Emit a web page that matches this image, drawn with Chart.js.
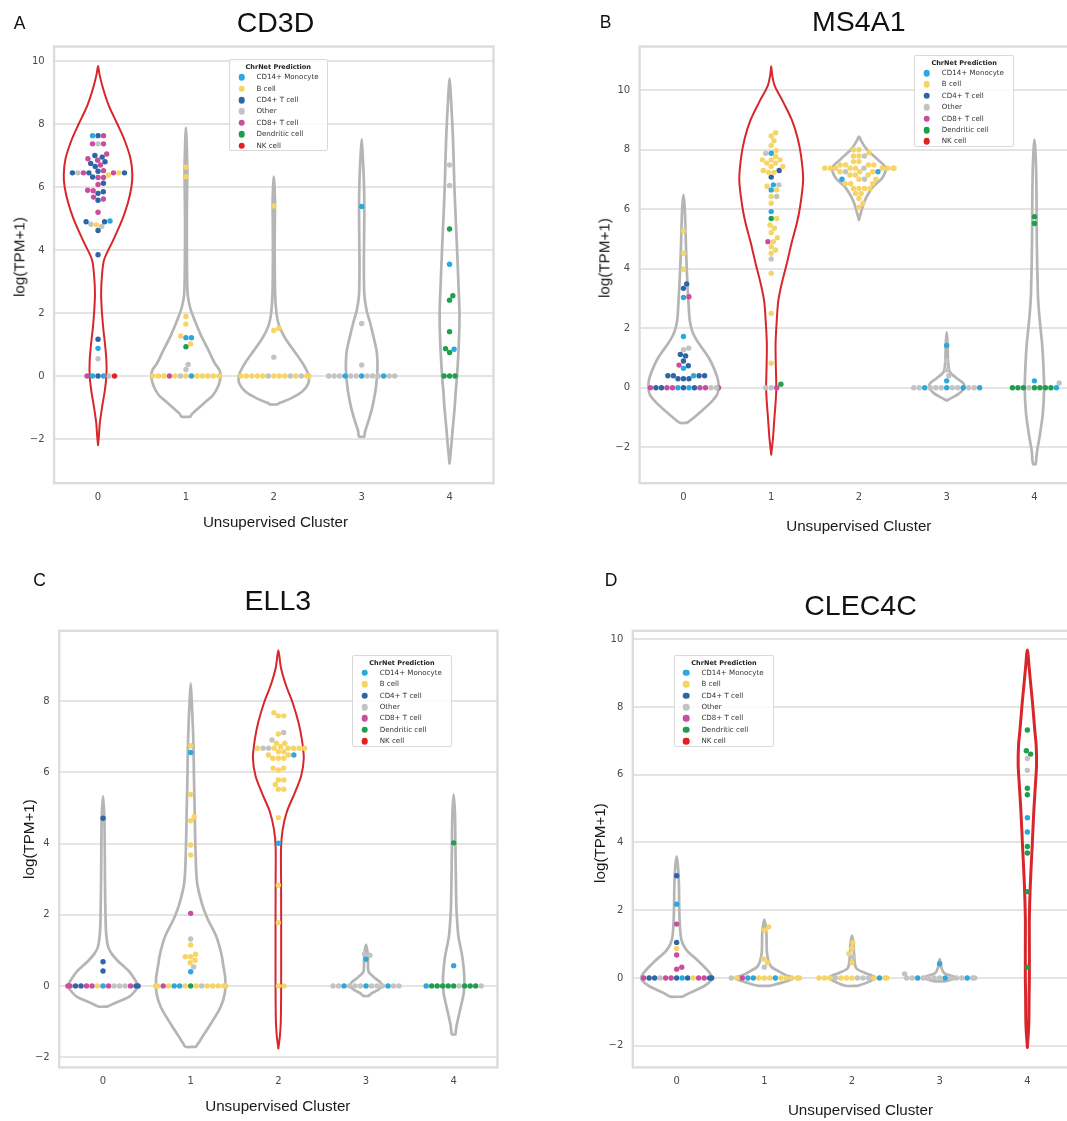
<!DOCTYPE html>
<html>
<head>
<meta charset="utf-8">
<title>ChrNet prediction vs unsupervised clusters</title>
<script src="https://cdn.jsdelivr.net/npm/chart.js@4.4.1/dist/chart.umd.min.js"></script>
<style>
  html, body { margin: 0; padding: 0; background: #fff; }
  body { width: 1067px; height: 1121px; overflow: hidden; position: relative; }
  .plot { position: absolute; }
  .txt { position: absolute; white-space: nowrap; line-height: 1; transform: translate(-50%, -50%);
         color: #111; font-family: 'Liberation Sans', Arial, sans-serif; }
  .letter { font-size: 17.5px; }
  .title { font-size: 28.5px; }
  .axis-title { font-size: 15.2px; color: #1a1a1a; }
  .ytitle { transform: translate(-50%, -50%) rotate(-90deg); }
  .legend { position: absolute; box-sizing: border-box; border: 1px solid #d9d9d9; border-radius: 2px;
            background: rgba(255,255,255,0.85); font-family: 'DejaVu Sans', sans-serif; color: #333; }
  .legend .lt { position: absolute; left: 0; right: 0; text-align: center; font-weight: bold; font-size: 6.5px;
                line-height: 1; transform: translateY(-50%); color: #222; }
  .legend .dot { position: absolute; width: 6.6px; height: 6.6px; border-radius: 50%; transform: translate(-50%, -50%); }
  .legend .lab { position: absolute; font-size: 7.1px; line-height: 1; transform: translateY(-50%); white-space: nowrap; }
</style>
</head>
<body>
<script>
// ---- cell types (hue of the swarm points) ----
const CELL_TYPES  = ['CD14+ Monocyte', 'B cell', 'CD4+ T cell', 'Other', 'CD8+ T cell', 'Dendritic cell', 'NK cell'];
const CELL_CODES  = ['m', 'b', '4', 'o', '8', 'd', 'n'];
const CELL_COLORS = ['#2ba8de', '#f6d466', '#2e65a6', '#c3c3c3', '#c94f9e', '#1f9e4d', '#e2211e'];

const CLUSTERS = [0, 1, 2, 3, 4];
const Y_TICKS  = [-2, 0, 2, 4, 6, 8, 10];
const GENES    = ['CD3D', 'MS4A1', 'ELL3', 'CLEC4C'];
const LETTERS  = ['A', 'B', 'C', 'D'];
const NK_CLUSTER = [0, 1, 2, 4];          // cluster outlined in red in each panel
const LEGEND_TITLE = 'ChrNet Prediction';
const X_TITLE = 'Unsupervised Cluster';
const Y_TITLE = 'log(TPM+1)';

// ---- cells: per cluster, rows of [log(TPM+1), cell-type codes from left to right] ----
const CD3D_CELLS = [
  [[0, '8m4mon'], [0.55, 'o'], [0.88, 'm'], [1.17, '4'], [3.85, '4'],
   [4.62, '4'], [4.75, 'o'], [4.8, 'b'], [4.82, 'o'], [4.9, '44'], [4.92, 'm'], [5.2, '8'],
   [5.58, '4'], [5.62, '8'], [5.68, '8'], [5.8, '4'], [5.85, '4'], [5.88, '8'], [5.9, '8'],
   [6.08, '8'], [6.12, '4'], [6.3, '88'], [6.32, '4'], [6.38, 'b'], [6.45, '4b848o4'], [6.5, '4'], [6.52, '8'],
   [6.65, '4'], [6.7, '8'], [6.75, '4'], [6.8, '4'], [6.85, '8'], [6.9, '8'], [6.95, '4'], [7.0, '4'], [7.05, '8'],
   [7.37, '8o8'], [7.63, 'm48']],
  [[0, 'bbb8bobmbbbbb'], [0.21, 'o'], [0.37, 'o'], [0.93, 'd'], [1.02, 'b'], [1.22, 'mm'], [1.27, 'b'],
   [1.65, 'b'], [1.89, 'b'], [6.33, 'b'], [6.63, 'b']],
  [[0, 'bbbbbobbbobobb'], [0.6, 'o'], [1.45, 'b'], [1.52, 'b'], [5.4, 'b']],
  [[0, 'ooomoomooomoo'], [0.35, 'o'], [1.67, 'o'], [5.38, 'm']],
  [[0, 'ddd'], [0.75, 'd'], [0.85, 'm'], [0.87, 'd'], [1.41, 'd'], [2.41, 'd'], [2.55, 'd'], [3.55, 'm'],
   [4.67, 'd'], [6.05, 'o'], [6.7, 'o']]
];
const MS4A1_CELLS = [
  [[0, '84488m4m488oo8'], [0.3, '444'], [0.4, '44m44'], [0.65, 'm'], [0.74, '4'], [0.76, '8'], [0.9, '4'],
   [1.07, '4'], [1.12, '4'], [1.28, 'o'], [1.33, 'o'], [1.72, 'm'], [3.03, 'm'], [3.06, '8'], [3.34, '4'],
   [3.49, '4'], [3.98, 'b'], [4.52, 'b'], [5.27, 'b']],
  [[0, 'oo8'], [0.12, 'd'], [0.82, 'b'], [2.5, 'b'], [3.85, 'b'], [4.33, 'o'], [4.52, 'b'], [4.63, 'b'],
   [4.74, 'b'], [4.91, 'b8'], [5.04, 'b'], [5.21, 'b'], [5.36, 'b'], [5.47, 'b'], [5.69, 'db'], [5.92, 'm'],
   [6.2, 'b'], [6.43, 'bo'], [6.65, 'mb'], [6.77, 'b'], [6.82, 'mo'], [7.08, '4'], [7.24, 'bb'], [7.3, '4b'],
   [7.44, 'bb'], [7.55, 'bb'], [7.66, 'bbb'], [7.77, 'b'], [7.88, 'mo'], [7.97, 'b'], [8.14, 'b'], [8.3, 'b'],
   [8.46, 'b'], [8.57, 'b']],
  [[6.06, 'b'], [6.19, 'b'], [6.36, 'b'], [6.53, 'bb'], [6.7, 'bbbb'], [6.86, 'bbb'], [7.01, 'bbom'],
   [7.15, 'bbb'], [7.26, 'bobbm'], [7.38, 'bbbbbobbbb'], [7.49, 'bbbb'], [7.6, 'bb'], [7.79, 'bbo'],
   [7.9, 'b'], [8.0, 'bb']],
  [[0, 'oomooomoomoom'], [0.23, 'm'], [0.4, 'o'], [0.6, 'o'], [0.9, 'o'], [1.42, 'm']],
  [[0, 'dddoddddm'], [0.16, 'o'], [0.23, 'm'], [5.52, 'd'], [5.75, 'd']]
];
const ELL3_CELLS = [
  [[0, '884488bm8ooo844'], [0.42, '4'], [0.68, '4'], [4.71, '4']],
  [[0, 'bb8bmmbdbobbbbb'], [0.4, 'm'], [0.53, 'o'], [0.65, 'b'], [0.72, 'b'], [0.82, 'bb'], [0.89, 'b'],
   [1.15, 'b'], [1.32, 'o'], [2.04, '8'], [3.68, 'b'], [3.96, 'b'], [4.64, 'b'], [4.76, 'b'], [5.38, 'b'],
   [6.56, 'm'], [6.75, 'b']],
  [[0, 'bb'], [1.78, 'b'], [2.83, 'b'], [4.01, 'm'], [4.73, 'b'], [5.53, 'bb'], [5.66, 'b'], [5.79, 'bb'],
   [6.07, 'b'], [6.12, 'bb'], [6.4, 'bbb'], [6.49, 'mbb'], [6.58, 'bb'], [6.68, 'boobbbbb'], [6.72, 'b'],
   [6.82, 'bb'], [6.91, 'o'], [7.08, 'b'], [7.12, 'o'], [7.59, 'bb'], [7.68, 'b']],
  [[0, 'oomooomooomoo'], [0.75, 'm'], [0.86, 'o'], [0.9, 'o']],
  [[0, 'mdddddodddo'], [0.57, 'm'], [4.02, 'd']]
];
const CLEC4C_CELLS = [
  [[0, '844o884m4b8844'], [0.26, '8'], [0.32, '8'], [0.68, '8'], [0.87, 'b'], [1.05, '4'], [1.59, '8'],
   [2.18, 'm'], [3.02, '4']],
  [[0, 'ob8mmbbbmbbbbb'], [0.32, 'o'], [0.45, 'b'], [0.56, 'b'], [1.41, 'b'], [1.51, 'b']],
  [[0, 'bbbobbbooobmbb'], [0.45, 'b'], [0.61, 'o'], [0.72, 'b'], [0.88, 'b'], [1.04, 'b']],
  [[0, 'oomoooomooomoo'], [0.12, 'o'], [0.42, 'm']],
  [[0.32, 'd'], [2.55, 'd'], [3.69, 'd'], [3.88, 'd'], [4.31, 'm'], [4.73, 'm'], [5.41, 'd'], [5.6, 'd'],
   [6.13, 'o'], [6.48, 'o'], [6.61, 'd'], [6.71, 'd'], [7.32, 'd']]
];

// ---- violin density outlines: [log(TPM+1), half width in cluster units], bottom to top ----
const CD3D_VIOLINS = [
  [[-2.19, 0], [-1.9, 0.01], [-1.5, 0.02], [-1.0, 0.045], [-0.5, 0.075], [0, 0.095], [0.5, 0.095], [1.0, 0.08],
   [1.5, 0.06], [2.0, 0.045], [2.6, 0.035], [3.2, 0.045], [3.7, 0.07], [4.3, 0.17], [5.0, 0.28], [5.5, 0.34],
   [6.0, 0.38], [6.4, 0.39], [6.9, 0.37], [7.5, 0.3], [8.0, 0.22], [8.6, 0.12], [9.2, 0.05], [9.6, 0.015], [9.84, 0]],
  [[-1.29, 0.05], [-1.2, 0.07], [-1.0, 0.15], [-0.8, 0.23], [-0.6, 0.31], [-0.3, 0.37], [0, 0.395], [0.2, 0.38],
   [0.4, 0.33], [0.8, 0.26], [1.3, 0.17], [1.8, 0.095], [2.2, 0.045], [2.6, 0.02], [3.5, 0.012], [5, 0.01],
   [6, 0.014], [6.5, 0.016], [7, 0.012], [7.6, 0.006], [7.89, 0]],
  [[-0.9, 0.04], [-0.85, 0.07], [-0.7, 0.2], [-0.5, 0.32], [-0.25, 0.39], [0, 0.4], [0.2, 0.37], [0.4, 0.33],
   [0.8, 0.23], [1.2, 0.13], [1.6, 0.06], [2.0, 0.03], [2.6, 0.015], [4, 0.01], [5, 0.012], [5.6, 0.013],
   [6.1, 0.006], [6.33, 0]],
  [[-1.92, 0.03], [-1.75, 0.04], [-1.4, 0.08], [-1.0, 0.12], [-0.5, 0.155], [0, 0.175], [0.4, 0.18], [0.8, 0.17],
   [1.3, 0.13], [1.7, 0.095], [2.1, 0.055], [2.6, 0.03], [3.5, 0.025], [4.5, 0.028], [5.4, 0.03], [6.2, 0.025],
   [7, 0.012], [7.51, 0]],
  [[-2.77, 0], [-2.3, 0.017], [-1.7, 0.035], [-1.0, 0.058], [-0.5, 0.07], [0, 0.085], [1, 0.105], [2, 0.113],
   [3, 0.1], [4, 0.086], [5, 0.07], [6, 0.055], [7, 0.045], [7.8, 0.035], [8.5, 0.022], [9.1, 0.01], [9.44, 0]]
];
const MS4A1_VIOLINS = [
  [[-1.18, 0.04], [-1.05, 0.1], [-0.8, 0.2], [-0.5, 0.31], [-0.25, 0.38], [0, 0.4], [0.3, 0.39], [0.7, 0.34],
   [1.0, 0.29], [1.3, 0.22], [1.6, 0.15], [1.9, 0.1], [2.3, 0.07], [3, 0.055], [4, 0.037], [5, 0.026],
   [6, 0.015], [6.48, 0]],
  [[-2.25, 0], [-1.7, 0.02], [-1.0, 0.037], [-0.5, 0.05], [0, 0.058], [0.8, 0.052], [1.5, 0.05], [2.2, 0.062],
   [2.9, 0.08], [3.5, 0.12], [4.2, 0.18], [4.9, 0.235], [5.5, 0.29], [6.1, 0.33], [7.0, 0.364], [7.8, 0.34],
   [8.4, 0.3], [9.0, 0.235], [9.6, 0.137], [10.15, 0.04], [10.5, 0.012], [10.81, 0]],
  [[5.64, 0], [5.96, 0.03], [6.2, 0.055], [6.41, 0.086], [6.75, 0.16], [7.03, 0.26], [7.25, 0.3], [7.4, 0.305],
   [7.55, 0.26], [7.76, 0.18], [7.95, 0.11], [8.1, 0.067], [8.3, 0.025], [8.44, 0]],
  [[-0.43, 0], [-0.35, 0.05], [-0.2, 0.14], [0, 0.2], [0.15, 0.19], [0.32, 0.114], [0.54, 0.034], [0.93, 0.015],
   [1.3, 0.012], [1.6, 0.008], [1.86, 0]],
  [[-2.57, 0.015], [-2.13, 0.031], [-1.55, 0.064], [-0.86, 0.096], [0, 0.11], [0.88, 0.1], [1.46, 0.088],
   [2.04, 0.068], [2.62, 0.05], [3.19, 0.039], [4.93, 0.027], [6, 0.025], [7.25, 0.02], [8, 0.01], [8.34, 0]]
];
const ELL3_VIOLINS = [
  [[-0.58, 0.05], [-0.5, 0.12], [-0.3, 0.3], [-0.1, 0.38], [0, 0.4], [0.15, 0.37], [0.4, 0.3], [0.7, 0.17],
   [0.9, 0.1], [1.1, 0.058], [1.5, 0.035], [2, 0.028], [3, 0.022], [4, 0.019], [4.8, 0.014], [5.33, 0]],
  [[-1.71, 0.06], [-1.6, 0.09], [-1.5, 0.116], [-1.1, 0.22], [-0.6, 0.34], [-0.2, 0.39], [0.2, 0.395], [0.6, 0.37],
   [0.9, 0.35], [1.4, 0.29], [1.9, 0.19], [2.3, 0.13], [2.9, 0.073], [3.9, 0.054], [5.0, 0.045], [5.9, 0.037],
   [6.6, 0.033], [7.4, 0.023], [8.0, 0.012], [8.5, 0]],
  [[-1.76, 0], [-1.4, 0.018], [-1.0, 0.028], [0, 0.032], [1, 0.032], [2, 0.032], [3, 0.031], [3.9, 0.031],
   [4.4, 0.05], [4.9, 0.098], [5.4, 0.183], [5.9, 0.26], [6.4, 0.29], [6.9, 0.27], [7.4, 0.23], [7.95, 0.164],
   [8.45, 0.087], [8.95, 0.029], [9.43, 0]],
  [[-0.28, 0.03], [-0.2, 0.067], [-0.1, 0.145], [0, 0.18], [0.1, 0.164], [0.25, 0.087], [0.4, 0.03], [0.7, 0.022],
   [0.91, 0.019], [1.16, 0]],
  [[-1.36, 0.02], [-1.1, 0.035], [-0.6, 0.08], [-0.2, 0.115], [0.2, 0.122], [0.6, 0.11], [0.9, 0.093],
   [1.4, 0.054], [2, 0.035], [2.4, 0.029], [3.9, 0.02], [4.8, 0.015], [5.38, 0]]
];
const CLEC4C_VIOLINS = [
  [[-0.55, 0.068], [-0.44, 0.15], [-0.23, 0.32], [-0.05, 0.4], [0.05, 0.4], [0.19, 0.365], [0.51, 0.244],
   [0.82, 0.113], [1.14, 0.053], [1.78, 0.033], [2.83, 0.025], [3.3, 0.015], [3.59, 0]],
  [[-0.23, 0.07], [-0.13, 0.21], [-0.05, 0.3], [0, 0.33], [0.08, 0.25], [0.19, 0.17], [0.35, 0.074],
   [0.72, 0.031], [1.35, 0.023], [1.72, 0]],
  [[-0.23, 0.07], [-0.13, 0.176], [0, 0.27], [0.08, 0.22], [0.14, 0.156], [0.3, 0.047], [0.72, 0.023],
   [1.0, 0.018], [1.25, 0]],
  [[-0.1, 0.05], [-0.07, 0.1], [0, 0.185], [0.04, 0.16], [0.08, 0.117], [0.15, 0.05], [0.3, 0.02], [0.56, 0]],
  [[-2.05, 0], [-1.4, 0.016], [-0.5, 0.02], [0, 0.023], [1, 0.023], [1.78, 0.023], [2.83, 0.035], [3.89, 0.055],
   [4.95, 0.074], [5.79, 0.094], [6.3, 0.105], [6.9, 0.1], [7.27, 0.086], [8.12, 0.059], [8.65, 0.039],
   [9.18, 0.02], [9.68, 0]]
];

const ALL_CELLS   = [CD3D_CELLS, MS4A1_CELLS, ELL3_CELLS, CLEC4C_CELLS];
const ALL_VIOLINS = [CD3D_VIOLINS, MS4A1_VIOLINS, ELL3_VIOLINS, CLEC4C_VIOLINS];

// ---- page layout of the four panels ----
const PANELS = [
  { box: [0, 0, 530, 540],     area: [54.1, 46.5, 493.5, 483.2], yRange: [-3.40, 10.46], redWidth: 2.0,
    letter: [19.5, 24.1], title: [275.5, 22.4], yTitle: [18.6, 257], xTitle: [275.5, 521.8], legend: [229, 59.3, 98.5, 91.5] },
  { box: [530, 0, 560, 540],   area: [109.6, 46.5, 548.3, 483.2], yRange: [-3.21, 11.47], redWidth: 2.0,
    letter: [605.5, 22.7], title: [858.8, 20.7], yTitle: [603.6, 258.3], xTitle: [858.8, 526.3], legend: [914.3, 55.1, 99.7, 92.3] },
  { box: [0, 560, 530, 561],   area: [59.2, 70.8, 497.5, 507.4], yRange: [-2.29, 9.98], redWidth: 2.0,
    letter: [39.7, 580.8], title: [277.8, 600.1], yTitle: [28.7, 839], xTitle: [277.8, 1105.6], legend: [352.2, 654.8, 99.7, 92.3] },
  { box: [530, 560, 560, 561], area: [102.8, 70.8, 541.2, 507.4], yRange: [-2.64, 10.25], redWidth: 3.0,
    letter: [611, 580.8], title: [860.5, 604.7], yTitle: [600.2, 842.7], xTitle: [860.5, 1110], legend: [673.9, 654.8, 100.3, 92.3] }
];

const GREY_LINE = '#b5b5b5';
const RED_LINE  = '#d8262a';
const GRID      = '#e4e4e4';
const FRAME     = '#dcdcdc';
const X_AXIS_H  = 24;
const DOT_R     = 2.7;
const SWARM_GAP = 5.5;   // centre-to-centre spacing of swarm dots, px

Chart.defaults.font.family = "'DejaVu Sans', sans-serif";

// order a row of equal values so the swarm fills it centre first, then right, then left
function centreOut(codes) {
  const n = codes.length, m = Math.floor((n - 1) / 2), order = [codes[m]];
  for (let k = 1; order.length < n; k++) {
    if (m + k < n) order.push(codes[m + k]);
    if (m - k >= 0) order.push(codes[m - k]);
  }
  return order;
}

// nearest free horizontal offset (px) for a dot at pixel height py
function findSlot(py, placed, d) {
  const near = placed.filter(p => Math.abs(p.py - py) < d);
  const cands = [0];
  near.forEach(p => {
    const dx = Math.sqrt(d * d - (p.py - py) ** 2);
    cands.push(p.px + dx, p.px - dx);
  });
  cands.sort((a, b) => {
    const da = Math.abs(a), db = Math.abs(b);
    return Math.abs(da - db) > 1e-6 ? da - db : b - a;
  });
  for (const c of cands) {
    if (near.every(p => (p.px - c) ** 2 + (p.py - py) ** 2 >= d * d - 1e-3)) return c;
  }
  return 0;
}

function violinOutline(profile, c) {
  const right = profile.map(([y, w]) => ({ x: c + w, y }));
  const left = profile.slice().reverse().map(([y, w]) => ({ x: c - w, y }));
  if (profile[profile.length - 1][1] === 0) left.shift();
  const pts = right.concat(left);
  if (profile[0][1] !== 0) pts.push({ x: right[0].x, y: right[0].y });
  return pts;
}

const framePlugin = {
  id: 'frame',
  beforeDatasetsDraw(chart) {
    const { ctx, chartArea: a } = chart;
    ctx.save();
    ctx.strokeStyle = FRAME;
    ctx.lineWidth = 2.4;
    ctx.strokeRect(a.left, a.top, a.right - a.left, a.bottom - a.top);
    ctx.restore();
  }
};

function addText(cls, text, x, y) {
  const el = document.createElement('div');
  el.className = 'txt ' + cls;
  el.textContent = text;
  el.style.left = x + 'px';
  el.style.top = y + 'px';
  document.body.appendChild(el);
  return el;
}

function addLegend([l, t, w, h]) {
  const el = document.createElement('div');
  el.className = 'legend';
  Object.assign(el.style, { left: l + 'px', top: t + 'px', width: w + 'px', height: h + 'px' });
  const title = document.createElement('div');
  title.className = 'lt';
  title.textContent = LEGEND_TITLE;
  title.style.top = '7px';
  el.appendChild(title);
  CELL_TYPES.forEach((name, i) => {
    const cy = 17 + i * 11.4;
    const dot = document.createElement('div');
    dot.className = 'dot';
    Object.assign(dot.style, { left: '11.5px', top: cy + 'px', background: CELL_COLORS[i] });
    const lab = document.createElement('div');
    lab.className = 'lab';
    Object.assign(lab.style, { left: '26.5px', top: cy + 'px' });
    lab.textContent = name;
    el.appendChild(dot);
    el.appendChild(lab);
  });
  document.body.appendChild(el);
}

function swarmLayout(chart, cells) {
  const xs = chart.scales.x, ys = chart.scales.y;
  const unit = xs.getPixelForValue(1) - xs.getPixelForValue(0);
  const maxOff = 0.4 * unit;
  const out = CELL_CODES.map(() => []);
  cells.forEach((rows, c) => {
    const placed = [];
    rows.slice().sort((a, b) => a[0] - b[0]).forEach(([v, codes]) => {
      const py = ys.getPixelForValue(v);
      centreOut(codes.split('')).forEach(code => {
        const off = findSlot(py, placed, SWARM_GAP);
        placed.push({ px: off, py });
        const shown = Math.max(-maxOff, Math.min(maxOff, off));
        out[CELL_CODES.indexOf(code)].push({ x: CLUSTERS[c] + shown / unit, y: v });
      });
    });
  });
  chart.data.datasets.forEach(ds => { if (ds.cellIndex !== undefined) ds.data = out[ds.cellIndex]; });
  chart.update('none');
}

function buildPanel(p, idx) {
  const [bx, by, bw, bh] = p.box;
  const [al, at, ar, ab] = p.area;
  const canvas = document.createElement('canvas');
  canvas.className = 'plot';
  canvas.width = bw; canvas.height = bh;
  Object.assign(canvas.style, { left: bx + 'px', top: by + 'px', width: bw + 'px', height: bh + 'px' });
  document.body.appendChild(canvas);

  const dotSets = CELL_TYPES.map((name, i) => ({
    label: name, cellIndex: i, data: [], order: 0,
    backgroundColor: CELL_COLORS[i], borderWidth: 0, pointRadius: DOT_R, pointHoverRadius: DOT_R
  }));
  const violinSets = ALL_VIOLINS[idx].map((profile, c) => {
    const red = c === NK_CLUSTER[idx];
    return {
      label: 'violin ' + CLUSTERS[c], data: violinOutline(profile, CLUSTERS[c]), order: 1,
      showLine: true, fill: false, tension: 0.3, pointRadius: 0, pointHoverRadius: 0,
      borderColor: red ? RED_LINE : GREY_LINE, borderWidth: red ? p.redWidth : 2.7,
      borderJoinStyle: 'round', borderCapStyle: 'round'
    };
  });

  const chart = new Chart(canvas, {
    type: 'scatter',
    data: { datasets: dotSets.concat(violinSets) },
    plugins: [framePlugin],
    options: {
      responsive: false, animation: false, devicePixelRatio: 1, events: [],
      layout: { padding: { left: 0, top: at, right: bw - ar, bottom: bh - ab - X_AXIS_H } },
      plugins: { legend: { display: false }, tooltip: { enabled: false } },
      scales: {
        x: {
          type: 'linear', min: -0.5, max: 4.5,
          afterFit: s => { s.height = X_AXIS_H; },
          afterBuildTicks: s => { s.ticks = CLUSTERS.map(v => ({ value: v })); },
          grid: { display: false, drawTicks: false },
          border: { display: false },
          ticks: { color: '#4a4a4a', font: { size: 10 }, padding: 8, maxRotation: 0, autoSkip: false,
                   callback: v => String(v) }
        },
        y: {
          type: 'linear', min: p.yRange[0], max: p.yRange[1],
          afterFit: s => { s.width = al; },
          afterBuildTicks: s => { s.ticks = Y_TICKS.filter(v => v >= s.min && v <= s.max).map(v => ({ value: v })); },
          grid: { color: GRID, lineWidth: 2, drawTicks: false },
          border: { display: false },
          ticks: { color: '#4a4a4a', font: { size: 10 }, padding: 9.5,
                   callback: v => (v < 0 ? '\u2212' + Math.abs(v) : String(v)) }
        }
      }
    }
  });
  swarmLayout(chart, ALL_CELLS[idx]);

  addText('letter', LETTERS[idx], p.letter[0], p.letter[1]);
  addText('title', GENES[idx], p.title[0], p.title[1]);
  addText('axis-title ytitle', Y_TITLE, p.yTitle[0], p.yTitle[1]);
  addText('axis-title', X_TITLE, p.xTitle[0], p.xTitle[1]);
  addLegend(p.legend);
}

PANELS.forEach(buildPanel);
</script>
</body>
</html>
